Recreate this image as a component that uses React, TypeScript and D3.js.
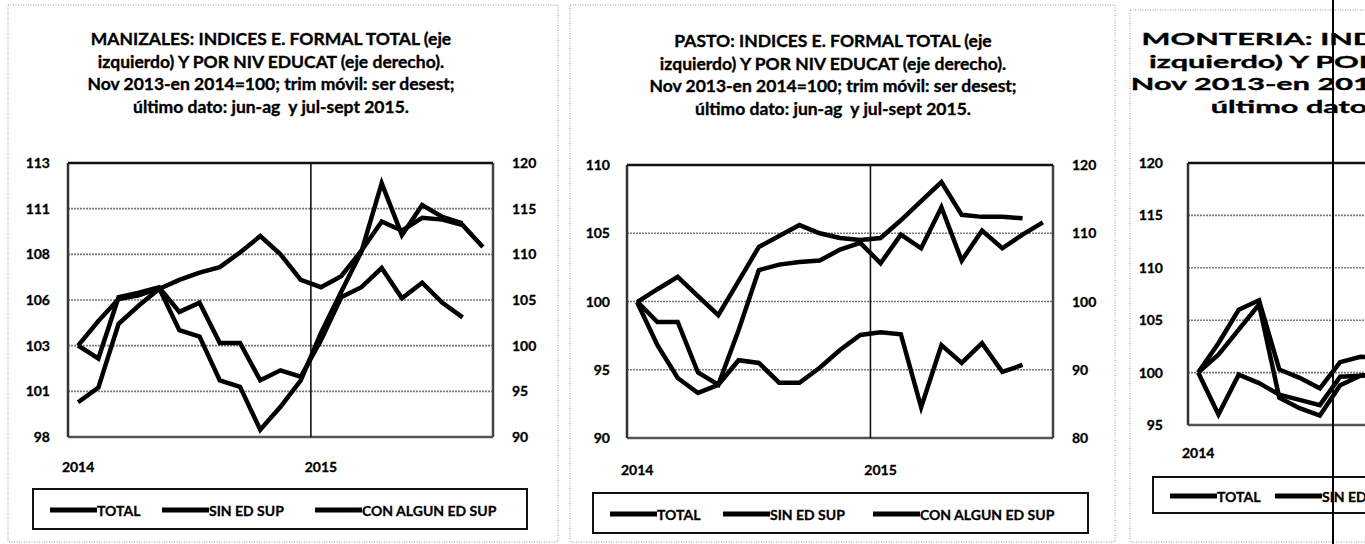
import * as d3 from "d3";
import React, { useRef, useEffect } from "react";

const width = 1365;
const height = 544;

// moving-quarter periods, first = nov13-ene14
const periods = [
  "2014-01", "2014-02", "2014-03", "2014-04", "2014-05", "2014-06", "2014-07",
  "2014-08", "2014-09", "2014-10", "2014-11", "2014-12", "2015-01", "2015-02",
  "2015-03", "2015-04", "2015-05", "2015-06", "2015-07", "2015-08", "2015-09",
];
const legendLabels = ["TOTAL", "SIN ED SUP", "CON ALGUN ED SUP"];

// MANIZALES
const maniTotal = [100.2, 101.0, 104.5, 105.5, 106.4, 106.9, 107.3, 107.6, 108.4, 109.3, 108.3, 106.9, 106.5, 107.1, 108.5, 110.1, 109.6, 110.3, 110.2, 109.9, 108.7];
const maniSin = [100, 98.6, 105.3, 105.8, 106.4, 103.7, 104.7, 100.3, 100.3, 96.2, 97.3, 96.6, 100.6, 105.3, 106.4, 108.5, 105.2, 106.9, 104.7, 103.1];
const maniCon = [100, 102.7, 105.1, 105.5, 106.3, 101.7, 101.0, 96.2, 95.5, 90.8, 93.3, 96.2, 101.4, 105.9, 110.3, 117.8, 112.1, 115.4, 114.1, 113.4];
const maniLeftTicks = [98.3, 100.8, 103.3, 105.8, 108.3, 110.8, 113.3];
const maniRightTicks = [90, 95, 100, 105, 110, 115, 120];

// PASTO
const pastoTotal = [100, 98.5, 98.5, 94.8, 93.9, 97.9, 102.3, 102.7, 102.9, 103.0, 103.8, 104.3, 102.8, 104.9, 103.9, 106.9, 103.0, 105.2, 103.9, 104.9, 105.8];
const pastoSin = [99.9, 101.8, 103.6, 100.8, 98.0, 103.0, 108.0, 109.6, 111.2, 110.0, 109.3, 109.0, 109.3, 111.9, 114.7, 117.5, 112.7, 112.4, 112.4, 112.2];
const pastoCon = [99.9, 93.6, 88.8, 86.6, 87.8, 91.4, 91.0, 88.1, 88.1, 90.3, 92.9, 95.1, 95.5, 95.2, 84.5, 93.6, 91.0, 93.9, 89.7, 90.7];
const pastoLeftTicks = [90, 95, 100, 105, 110];
const pastoRightTicks = [80, 90, 100, 110, 120];

// MONTERIA (cut off at the right edge of the page)
const monteTotal = [100, 96.0, 99.8, 99.0, 97.9, 97.4, 96.9, 99.6, 99.7, 99.8];
const monteSin = [100, 102.8, 106.0, 106.9, 100.3, 99.5, 98.5, 101.0, 101.5, 101.4];
const monteCon = [100, 101.7, 104.1, 106.5, 97.6, 96.6, 95.9, 98.8, 99.7, 99.9];
const monteLeftTicks = [95, 100, 105, 110, 115, 120];

const titleFor = city => [
  `${city}: INDICES E. FORMAL TOTAL (eje`,
  "izquierdo) Y POR NIV EDUCAT (eje derecho).",
  "Nov 2013-en 2014=100; trim móvil: ser desest;",
  "último dato: jun-ag  y jul-sept 2015.",
];

const font = "Lato, 'Open Sans', sans-serif";

const panels = [
  {
    city: "MANIZALES", total: maniTotal, sin: maniSin, con: maniCon,
    leftTicks: maniLeftTicks, rightTicks: maniRightTicks,
    frame: { x: 8, y: 5, w: 550, h: 537 },
    plot: { x0: 68, x1: 493, y0: 163, y1: 437 },
    title: { x: 271, y: 45, sx: 1 },
    leftDx: 18,
    legend: { x: 33, y: 489, w: 494, h: 40, offs: [17, 129, 282] },
    xLabelDy: 35,
  },
  {
    city: "PASTO", total: pastoTotal, sin: pastoSin, con: pastoCon,
    leftTicks: pastoLeftTicks, rightTicks: pastoRightTicks,
    frame: { x: 570, y: 5, w: 545, h: 537 },
    plot: { x0: 627, x1: 1053, y0: 165, y1: 438 },
    title: { x: 833, y: 47, sx: 1 },
    leftDx: 17,
    legend: { x: 593, y: 493, w: 495, h: 40, offs: [17, 130, 280] },
    xLabelDy: 37,
  },
  {
    city: "MONTERIA", total: monteTotal, sin: monteSin, con: monteCon,
    leftTicks: monteLeftTicks, rightTicks: null,
    frame: { x: 1130, y: 10, w: 550, h: 532 },
    plot: { x0: 1188, x1: 1614, y0: 163, y1: 425 },
    title: { x: 1452, y: 45, sx: 1.75 },
    leftDx: 25,
    legend: { x: 1153, y: 477, w: 495, h: 36, offs: [17, 122, 280] },
    xLabelDy: 33,
  },
];

function drawPanel(svg, p) {
  const g = svg.append("g");
  const { x0, x1, y0, y1 } = p.plot;

  g.append("rect")
    .attr("x", p.frame.x).attr("y", p.frame.y)
    .attr("width", p.frame.w).attr("height", p.frame.h)
    .attr("fill", "none").attr("stroke", "#9a9a9a")
    .attr("stroke-width", 1).attr("stroke-dasharray", "1,1.5");

  const title = g.append("text")
    .attr("transform", `translate(${p.title.x},0) scale(${p.title.sx},1)`)
    .attr("text-anchor", "middle")
    .style("white-space", "pre")
    .attr("font-family", font).attr("font-weight", "bold").attr("font-size", 17.5)
    .attr("stroke", "#000").attr("stroke-width", 0.35);
  titleFor(p.city).forEach((s, i) => {
    title.append("tspan").attr("x", 0).attr("y", p.title.y + i * 22.7).text(s);
  });

  const x = d3.scaleBand().domain(periods).range([x0, x1]);
  const cx = i => x(periods[i]) + x.bandwidth() / 2;
  const lt = p.leftTicks;
  const yL = d3.scaleLinear().domain([lt[0], lt[lt.length - 1]]).range([y1, y0]);
  const rt = p.rightTicks || lt;
  const yR = d3.scaleLinear().domain([rt[0], rt[rt.length - 1]]).range([y1, y0]);

  // gridlines
  g.append("g").selectAll("line")
    .data(lt.slice(1, -1))
    .join("line")
    .attr("x1", x0).attr("x2", x1)
    .attr("y1", d => yL(d)).attr("y2", d => yL(d))
    .attr("stroke", "#7a7a7a").attr("stroke-width", 1.6)
    .attr("stroke-dasharray", "2,1");

  // plot frame
  g.append("line").attr("x1", x0).attr("x2", x1).attr("y1", y1).attr("y2", y1)
    .attr("stroke", "#555").attr("stroke-width", 2.5);
  g.append("line").attr("x1", x0).attr("x2", x0).attr("y1", y0).attr("y2", y1)
    .attr("stroke", "#333").attr("stroke-width", 2.5);
  g.append("line").attr("x1", x1).attr("x2", x1).attr("y1", y0).attr("y2", y1)
    .attr("stroke", "#444").attr("stroke-width", 2.5);
  g.append("line").attr("x1", x0).attr("x2", x1).attr("y1", y0).attr("y2", y0)
    .attr("stroke", "#111").attr("stroke-width", 2.5);

  // 2015 marker line
  const xYear = x("2015-01");
  g.append("line").attr("x1", xYear).attr("x2", xYear).attr("y1", y0).attr("y2", y1)
    .attr("stroke", "#111").attr("stroke-width", 1.6);

  // series: TOTAL on left axis, education levels on right axis
  const series = [
    { values: p.total, y: yL },
    { values: p.sin, y: yR },
    { values: p.con, y: yR },
  ];
  series.forEach(s => {
    const line = d3.line().x((d, i) => cx(i)).y(d => s.y(d));
    g.append("path")
      .attr("d", line(s.values))
      .attr("fill", "none").attr("stroke", "#000")
      .attr("stroke-width", 4.5).attr("stroke-linejoin", "miter")
      .attr("stroke-miterlimit", 6);
  });

  // axis labels
  const fmt = d3.format(".0f");
  g.append("g").selectAll("text")
    .data(lt)
    .join("text")
    .attr("x", x0 - p.leftDx).attr("y", d => yL(d) + 5)
    .attr("text-anchor", "end")
    .attr("font-family", font).attr("font-weight", "bold").attr("font-size", 14)
    .attr("stroke", "#000").attr("stroke-width", 0.3)
    .text(d => fmt(d));
  if (p.rightTicks) {
    g.append("g").selectAll("text")
      .data(p.rightTicks)
      .join("text")
      .attr("x", x1 + 19).attr("y", d => yR(d) + 5)
      .attr("font-family", font).attr("font-weight", "bold").attr("font-size", 14)
      .attr("stroke", "#000").attr("stroke-width", 0.3)
      .text(d => fmt(d));
  }
  g.append("g").selectAll("text")
    .data(periods.filter(d => d.endsWith("-01")))
    .join("text")
    .attr("x", d => x(d) + x.bandwidth() / 2).attr("y", y1 + p.xLabelDy)
    .attr("text-anchor", "middle")
    .attr("font-family", font).attr("font-weight", "bold").attr("font-size", 14)
    .attr("stroke", "#000").attr("stroke-width", 0.3)
    .text(d => d.slice(0, 4));

  // legend
  const lg = p.legend;
  g.append("rect")
    .attr("x", lg.x).attr("y", lg.y).attr("width", lg.w).attr("height", lg.h)
    .attr("fill", "none").attr("stroke", "#111").attr("stroke-width", 2);
  legendLabels.forEach((name, i) => {
    const lx = lg.x + lg.offs[i];
    const ly = lg.y + lg.h / 2 + 1;
    g.append("line").attr("x1", lx).attr("x2", lx + 47).attr("y1", ly).attr("y2", ly)
      .attr("stroke", "#000").attr("stroke-width", 5);
    g.append("text")
      .attr("x", lx + 47).attr("y", ly + 6)
      .attr("font-family", font).attr("font-weight", "bold").attr("font-size", 14)
      .attr("stroke", "#000").attr("stroke-width", 0.3)
      .text(name);
  });
}

const App = () => {
  const ref = useRef(null);

  useEffect(() => {
    if (!ref.current) return;
    const svg = d3.select(ref.current);
    svg.selectAll("*").remove();
    svg.append("rect").attr("width", width).attr("height", height).attr("fill", "#fff");
    panels.forEach(p => drawPanel(svg, p));
    // scanner artefact: vertical rule running over the third chart
    svg.append("line").attr("x1", 1333).attr("x2", 1333).attr("y1", 0).attr("y2", height)
      .attr("stroke", "#000").attr("stroke-width", 2);
  }, []);

  return (
    <svg
      ref={ref}
      width={width}
      height={height}
      style={{ position: "absolute", left: 0, top: 0, display: "block" }}
    />
  );
};

export default App;
